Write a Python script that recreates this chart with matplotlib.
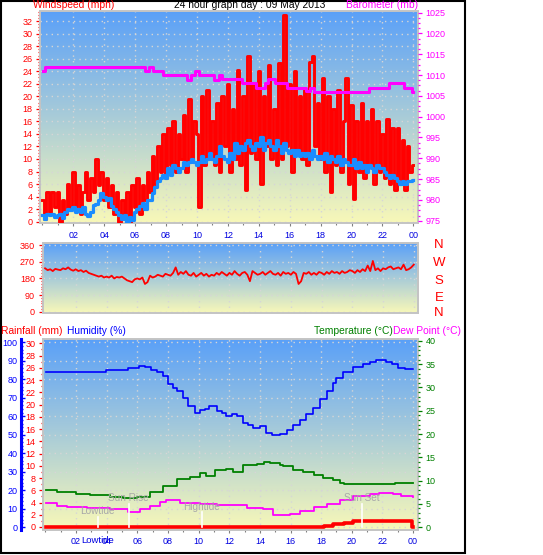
import numpy as np
import matplotlib
matplotlib.use("Agg")
import matplotlib.pyplot as plt
from matplotlib.ticker import MultipleLocator, FixedLocator
from matplotlib.patches import Rectangle

plt.rcParams["font.family"] = ["Liberation Sans", "DejaVu Sans"]

TITLE = "24 hour graph day : 09 May 2013"

# ── Data ─────────────────────────────────────────────────────────────
# wind: 10-minute samples from 00:00 to 24:00
wind_gust = [
    3.5, 0.5, 4.7, 1.5, 4.7, 2.3,
    4.7, 0.0, 3.5, 1.2, 6.0, 2.3,
    8.0, 2.3, 5.8, 1.2, 4.7, 8.0,
    3.5, 7.0, 4.7, 10.0, 5.8, 8.0,
    3.5, 7.0, 2.3, 5.8, 1.2, 4.7,
    0.0, 3.5, 1.2, 4.7, 0.0, 5.8,
    2.3, 7.0, 1.2, 5.8, 3.5, 8.0,
    4.7, 10.5, 6.0, 12.0, 8.0, 14.0,
    7.0, 15.0, 9.0, 16.0, 8.0, 14.0,
    10.0, 17.0, 8.0, 19.5, 10.0, 16.0,
    14.0, 2.3, 20.0, 9.0, 21.0, 10.0,
    16.0, 9.0, 19.0, 8.0, 20.0, 12.0,
    22.0, 8.0, 18.0, 10.0, 24.2, 9.0,
    20.0, 5.0, 26.4, 11.0, 22.0, 10.0,
    24.0, 6.0, 20.0, 12.0, 25.0, 10.0,
    18.0, 9.0, 25.3, 10.0, 33.0, 12.0,
    22.0, 8.0, 24.0, 11.0, 20.0, 10.0,
    21.0, 9.0, 25.4, 26.4, 12.0, 19.0,
    10.0, 22.9, 8.0, 20.0, 4.8, 18.0,
    9.0, 21.0, 8.0, 16.0, 22.9, 6.0,
    18.6, 3.6, 16.0, 8.0, 19.0, 7.0,
    16.0, 9.0, 18.0, 6.0, 16.0, 8.0,
    14.0, 7.0, 16.3, 6.0, 15.0, 5.0,
    14.9, 6.0, 13.0, 5.0, 12.0, 8.0,
    9.0,
]
wind_avg = [
    1.0, 0.4, 1.2, 1.0, 1.2, 0.8,
    1.0, 1.3, 0.6, 1.5, 2.0, 1.8,
    2.3, 1.5, 2.0, 1.6, 2.4, 1.2,
    0.9, 1.6, 2.6, 2.8, 3.5, 4.5,
    4.0, 3.5, 3.8, 2.5, 2.0, 1.5,
    1.0, 0.5, 1.0, 0.0, 0.8, 0.3,
    1.5, 2.0, 2.5, 3.0, 2.0, 3.5,
    3.5, 4.5, 5.5, 6.5, 7.0, 7.5,
    7.0, 8.5, 7.5, 9.0, 8.5, 8.0,
    8.5, 9.5, 9.0, 9.5, 10.0, 9.5,
    9.0, 9.5, 10.5, 9.5, 10.0, 11.0,
    10.0, 9.5, 10.5, 12.0, 10.5, 10.0,
    9.5, 11.0, 10.0, 12.5, 11.0, 12.0,
    11.5, 12.5, 13.0, 12.0, 11.5, 12.5,
    12.0, 13.5, 11.5, 12.5, 13.0, 12.0,
    11.5, 13.0, 12.0, 11.0, 12.5, 11.5,
    11.0, 11.5, 10.5, 11.5, 10.5, 11.0,
    10.5, 11.0, 10.0, 11.5, 10.5, 10.0,
    10.5, 10.0, 11.0, 9.5, 10.5, 10.0,
    9.5, 10.5, 9.0, 10.0, 9.5, 9.0,
    9.0, 10.0, 8.5, 9.5, 8.5, 9.0,
    8.0, 9.0, 8.5, 8.0, 9.0, 8.5,
    8.5, 8.0, 7.5, 7.0, 7.5, 7.0,
    6.5, 6.0, 6.5, 6.0, 6.5, 6.5,
    6.7,
]
wind_dir = [
    235, 225, 230, 220, 232, 228,
    225, 235, 230, 240, 228, 222,
    230, 220, 225, 215, 222, 210,
    205, 200, 195, 190, 195, 185,
    190, 185, 195, 180, 188, 185,
    190, 180, 170, 165, 160, 175,
    180, 175, 185, 150, 160, 195,
    185, 190, 200, 195, 190, 205,
    200, 195, 210, 240, 200, 215,
    205, 220, 200, 195, 210, 190,
    200, 210, 195, 205, 190, 200,
    195, 210, 200, 215, 205, 195,
    210, 200, 220, 205, 195, 210,
    215, 200, 165, 220, 210, 200,
    205, 215, 200, 210, 220, 205,
    200, 210, 195, 215, 205, 210,
    200, 215, 205, 150, 165, 210,
    205, 215, 200, 210, 200, 215,
    210, 200, 215, 205, 220, 210,
    215, 205, 220, 210, 215, 225,
    220, 210, 225, 215, 230, 220,
    250, 220, 275, 225, 235, 220,
    235, 230, 240, 245, 230, 235,
    240, 230, 255, 225, 230, 240,
    255,
]
wind_hours = np.arange(len(wind_gust)) / 6.0

baro_hours = [0.05, 0.2, 6.64, 6.92, 7.18, 7.83, 9.34, 9.6, 9.88, 10.14,
              11.1, 11.4, 11.6, 12.9, 13.85, 14.4, 14.6, 14.75, 15.05,
              15.8, 17.06, 17.3, 17.6, 21.1, 22.4, 23.4, 23.9, 24.0]
baro_mb = [1011.0, 1012.0, 1011.1, 1012.0, 1011.0, 1010.0, 1008.8, 1010.0,
           1011.0, 1010.0, 1008.8, 1010.0, 1009.0, 1008.0, 1007.0, 1008.0,
           1009.0, 1009.0, 1008.0, 1007.0, 1006.2, 1007.0, 1006.0, 1007.0,
           1008.0, 1007.0, 1006.0, 1006.0]

hum_hours = [0.05, 3.96, 5.4, 6.1, 6.5, 6.9, 7.3, 7.7, 8.0, 8.3, 8.56, 9.0,
             9.32, 9.76, 10.1, 10.4, 10.7, 11.17, 11.5, 11.8, 12.2, 12.5,
             12.9, 13.2, 13.56, 14.0, 14.4, 14.8, 15.3, 15.74, 16.17, 16.6,
             17.04, 17.48, 17.91, 18.35, 18.78, 19.0, 19.4, 20.1, 20.7,
             21.2, 21.6, 22.26, 22.6, 23.0, 23.5, 24.0]
hum_pct = [84.1, 85.0, 86.2, 87.1, 86.5, 85.0, 84.0, 81.7, 77.2, 75.0, 73.5,
           70.0, 65.4, 61.8, 63.6, 64.0, 65.4, 62.7, 62.0, 60.0, 61.0, 60.3,
           56.4, 55.0, 53.6, 54.5, 50.9, 50.0, 50.5, 52.3, 55.4, 58.2, 61.4,
           64.5, 69.4, 73.5, 78.1, 80.8, 84.1, 86.6, 88.0, 89.5, 90.4, 89.3,
           88.0, 86.2, 85.5, 85.3]

temp_hours = [0.05, 0.74, 2.0, 2.9, 4.2, 5.08, 5.95, 6.8, 7.69, 8.56, 9.43,
              10.08, 10.5, 11.06, 11.8, 12.26, 12.9, 13.8, 14.3, 14.65, 15.3,
              15.52, 16.17, 16.8, 17.5, 18.1, 18.78, 19.2, 19.5, 22.26, 22.8,
              24.0]
temp_c = [7.96, 7.6, 7.2, 6.9, 6.5, 6.2, 6.5, 7.6, 8.8, 10.25, 10.8, 11.7,
          11.0, 12.3, 12.4, 11.9, 13.3, 13.5, 13.9, 13.8, 13.3, 13.1, 12.3,
          11.8, 11.2, 10.5, 10.1, 9.5, 9.25, 9.25, 9.5, 9.4]

dew_hours = [0.05, 0.74, 1.4, 2.7, 4.2, 5.4, 6.17, 6.8, 7.47, 7.9, 8.78,
             10.1, 11.17, 12.26, 13.13, 14.22, 14.87, 15.3, 15.95, 16.6,
             17.5, 18.35, 19.2, 20.08, 21.17, 21.8, 22.7, 23.2, 24.0]
dew_c = [5.1, 4.6, 4.4, 4.0, 3.8, 3.3, 3.8, 4.5, 5.4, 5.7, 5.2, 4.9, 4.7,
         4.7, 4.0, 3.8, 2.6, 2.6, 2.8, 3.4, 4.2, 4.9, 5.8, 6.7, 7.0, 7.25,
         7.1, 6.7, 6.5]

rain_hours = [0.05, 18.2, 18.8, 19.5, 20.08, 20.6, 23.96, 24.0]
rain_mm = [0.0, 0.17, 0.45, 0.7, 0.9, 1.05, 0.0, 0.0]

event_names = ["Lowtide", "Sun Rise", "Hightide", "Sun Set"]
event_hours = [3.41, 5.44, 10.19, 20.67]

hour_ticks = list(range(2, 25, 2))
hour_labels = [f"{h % 24:02d}" for h in hour_ticks]

# ── Style ────────────────────────────────────────────────────────────
W, H = 543, 555
RED = "#ff0000"
BLUE = "#0000ff"
MAG = "#ff00ff"
GREEN = "#008000"
WBLUE = "#1a8cff"
GREY = "#c4c4c4"
GRID = "#d6d6d6"
FS_TICK = 6.5
FS_HEAD = 7.4


def px(x0, y0, x1, y1):
    return [x0 / W, 1 - y1 / H, (x1 - x0) / W, (y1 - y0) / H]


def backdrop(ax):
    top = np.array([0x5a, 0xa0, 0xf8]) / 255
    bot = np.array([0xf8, 0xf8, 0xb8]) / 255
    t = np.linspace(0, 1, 256)[:, None, None]
    grad = top * (1 - t) + bot * t
    ax.imshow(grad, extent=[0, 1, 0, 1], transform=ax.transAxes,
              aspect="auto", zorder=0, interpolation="bilinear")


def frame(ax):
    for s in ax.spines.values():
        s.set_color(GREY)
        s.set_linewidth(1.4)


def hours_axis(ax, pad=3.0):
    ax.set_xlim(-0.155, 24.3)
    ax.xaxis.set_major_locator(FixedLocator(hour_ticks))
    ax.xaxis.set_minor_locator(MultipleLocator(1))
    ax.set_xticklabels(hour_labels)
    ax.tick_params(axis="x", which="both", colors="#808080",
                   labelcolor="#0000e0", labelsize=FS_TICK, pad=pad,
                   length=2.5, width=0.8)
    ax.tick_params(axis="x", which="minor", length=1.5)


def yaxis_style(ax, color, direction="out"):
    ax.tick_params(axis="y", which="both", colors=color, labelcolor=color,
                   labelsize=FS_TICK, direction=direction, width=0.9,
                   pad=2.5)
    ax.tick_params(axis="y", which="major", length=3)
    ax.tick_params(axis="y", which="minor", length=1.6)


fig = plt.figure(figsize=(W / 100, H / 100), dpi=100)

# ── Wind speed / barometer ───────────────────────────────────────────
ax1 = fig.add_axes(px(40, 11, 418, 223))
backdrop(ax1)
frame(ax1)
ax1.plot(wind_hours, wind_gust, color=RED, lw=2.1, drawstyle="steps-mid",
         zorder=3)
ax1.plot(wind_hours, wind_avg, color=WBLUE, lw=2.3, drawstyle="steps-mid",
         zorder=4)
ax1.set_ylim(-0.21, 33.6)
ax1.yaxis.set_major_locator(MultipleLocator(2))
ax1.yaxis.set_minor_locator(MultipleLocator(0.5))
yaxis_style(ax1, RED)
hours_axis(ax1, pad=3.5)
ax1.grid(True, which="major", color=GRID, linestyle=(0, (1, 3)), lw=1.0)

ax1b = ax1.twinx()
for s in ax1b.spines.values():
    s.set_visible(False)
ax1b.plot(baro_hours, baro_mb, color=MAG, lw=2.2, drawstyle="steps-post",
          zorder=5)
ax1b.set_ylim(974.45, 1025.4)
ax1b.yaxis.set_major_locator(MultipleLocator(5))
ax1b.yaxis.set_minor_locator(MultipleLocator(1.25))
yaxis_style(ax1b, MAG)

# ── Wind direction ───────────────────────────────────────────────────
ax2 = fig.add_axes(px(42.7, 243, 418.4, 313))
backdrop(ax2)
frame(ax2)
ax2.plot(wind_hours, wind_dir, color=RED, lw=1.3, zorder=3)
ax2.set_ylim(-7.6, 372.4)
ax2.yaxis.set_major_locator(MultipleLocator(90))
ax2.yaxis.set_minor_locator(MultipleLocator(15))
yaxis_style(ax2, RED)
ax2.set_xlim(-0.155, 24.3)
ax2.xaxis.set_major_locator(FixedLocator(hour_ticks))
ax2.tick_params(axis="x", length=0, labelbottom=False)
ax2.grid(True, which="major", color=GRID, linestyle=(0, (1, 3)), lw=1.0)
for lab, yy in zip(["N", "W", "S", "E", "N"], [245, 263.5, 281, 298, 313]):
    fig.text(439 / W, 1 - yy / H, lab, color=RED, fontsize=9.5,
             ha="center", va="center")

# ── Humidity / rain / temperature ────────────────────────────────────
ax3 = fig.add_axes(px(43, 339, 417.7, 530))
backdrop(ax3)
frame(ax3)
ax3.spines["left"].set_position(("axes", (21 - 43) / 374.7))
ax3.spines["left"].set_color(BLUE)
ax3.spines["left"].set_linewidth(2.2)
ax3.plot(hum_hours, hum_pct, color=BLUE, lw=1.2, drawstyle="steps-post",
         zorder=3)
ax3.set_ylim(-1.62, 101.8)
ax3.yaxis.set_major_locator(MultipleLocator(10))
ax3.yaxis.set_minor_locator(MultipleLocator(2))
yaxis_style(ax3, BLUE, direction="in")
ax3.tick_params(axis="y", which="both", width=1.0)
hours_axis(ax3, pad=2.5)
ax3.grid(True, which="major", color=GRID, linestyle=(0, (1, 3)), lw=1.0)

axr = ax3.twinx()
for s in axr.spines.values():
    s.set_visible(False)
axr.spines["left"].set_visible(True)
axr.spines["left"].set_color(GREY)
axr.spines["left"].set_linewidth(1.4)
axr.yaxis.tick_left()
axr.plot(rain_hours, rain_mm, color=RED, lw=2.6, drawstyle="steps-post",
         zorder=3)
axr.set_ylim(-0.49, 30.7)
axr.yaxis.set_major_locator(MultipleLocator(2))
axr.yaxis.set_minor_locator(MultipleLocator(1))
yaxis_style(axr, RED)

axt = ax3.twinx()
for s in axt.spines.values():
    s.set_visible(False)
axt.plot(temp_hours, temp_c, color=GREEN, lw=1.3, drawstyle="steps-post",
         zorder=3)
axt.plot(dew_hours, dew_c, color=MAG, lw=1.3, drawstyle="steps-post",
         zorder=3)
axt.set_ylim(-0.645, 40.43)
axt.yaxis.set_major_locator(MultipleLocator(5))
axt.yaxis.set_minor_locator(MultipleLocator(1))
yaxis_style(axt, GREEN)

# sunrise / sunset / tide markers
tr = axt.get_xaxis_transform()
label_y = [0.0995, 0.168, 0.122, 0.168]
line_top = [0.068, 0.136, 0.096, 0.136]
for name, h, ly, lt in zip(event_names, event_hours, label_y, line_top):
    axt.plot([h, h], [0.016, lt], color="white", lw=1.2, transform=tr,
             zorder=6, clip_on=False)
    axt.text(h, ly, name, color="#a8a8a8", fontsize=7.2, ha="center",
             va="center", transform=tr, zorder=7)
axt.text(event_hours[0], -0.056, "Lowtide", color="#0000e0",
         fontsize=FS_TICK + 0.3, ha="center", va="center", transform=tr)

# ── Headers ──────────────────────────────────────────────────────────
fig.text(33 / W, 1 - 5 / H, "Windspeed (mph)", color=RED, fontsize=FS_HEAD,
         ha="left", va="center")
fig.text(250 / W, 1 - 5 / H, TITLE, color="black", fontsize=FS_HEAD,
         ha="center", va="center")
fig.text(418 / W, 1 - 5 / H, "Barometer (mb)", color=MAG, fontsize=FS_HEAD,
         ha="right", va="center")
fig.text(1 / W, 1 - 331 / H, "Rainfall (mm)", color=RED, fontsize=FS_HEAD,
         ha="left", va="center")
fig.text(67 / W, 1 - 331 / H, "Humidity (%)", color=BLUE, fontsize=FS_HEAD,
         ha="left", va="center")
fig.text(393 / W, 1 - 331 / H, "Temperature (°C)", color=GREEN,
         fontsize=FS_HEAD, ha="right", va="center")
fig.text(393 / W, 1 - 331 / H, "Dew Point (°C)", color=MAG,
         fontsize=FS_HEAD, ha="left", va="center")

fig.patches.append(Rectangle((1 / W, 1 - 553 / H), 464 / W, 552.5 / H,
                             fill=False, edgecolor="black", lw=1.5,
                             transform=fig.transFigure, figure=fig))

fig.savefig("out.png", dpi=100)
